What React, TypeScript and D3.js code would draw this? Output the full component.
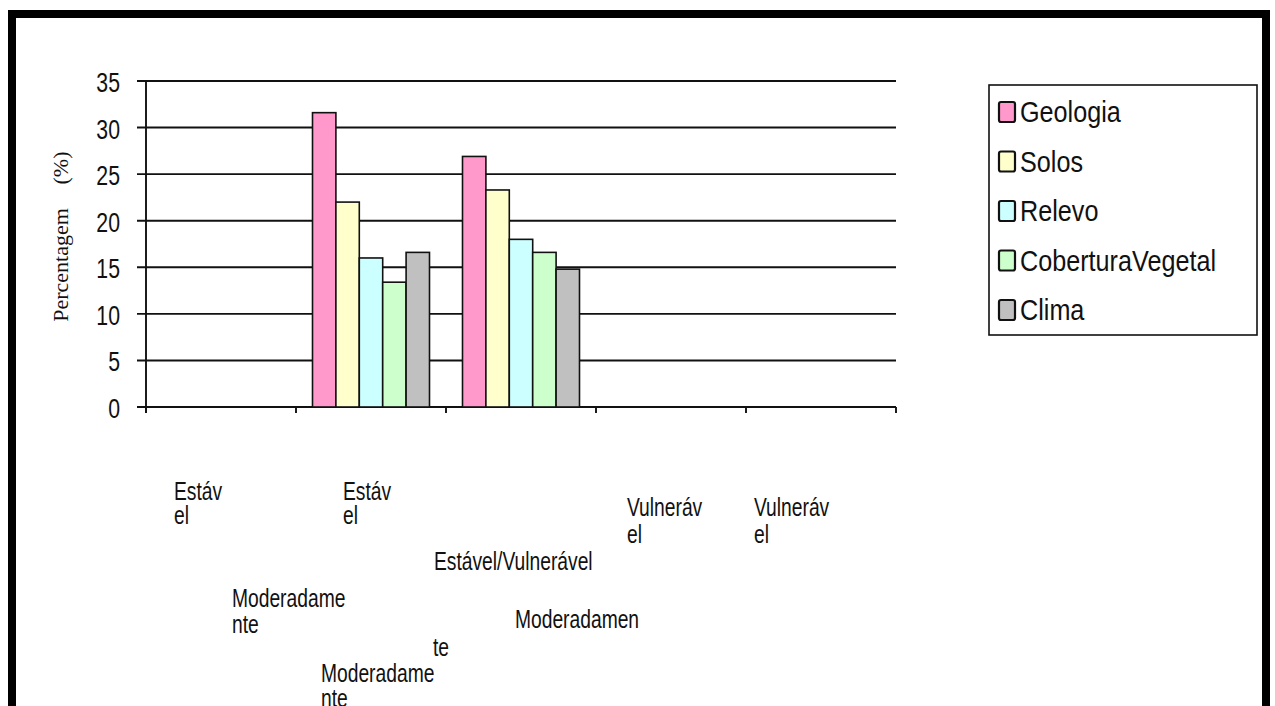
import React from "react";
import * as d3 from "d3";

const categories = [
  "Estável",
  "Moderadamente Estável",
  "Medianamente Estável/Vulnerável",
  "Moderadamente Vulnerável",
  "Vulnerável",
];
const seriesNames = ["Geologia", "Solos", "Relevo", "CoberturaVegetal", "Clima"];
const geologia = [0, 31.6, 26.9, 0, 0];
const solos = [0, 22.0, 23.3, 0, 0];
const relevo = [0, 16.0, 18.0, 0, 0];
const coberturaVegetal = [0, 13.4, 16.6, 0, 0];
const clima = [0, 16.6, 14.8, 0, 0];
const yTicks = [0, 5, 10, 15, 20, 25, 30, 35];
const colors = ["#FF99CC", "#FFFFCC", "#CCFFFF", "#CCFFCC", "#C0C0C0"];

// Fragments of the wrapped category labels as they appear in the picture
const labelFragments = [
  { t: "Estáv", x: 174, y: 500 },
  { t: "el", x: 174, y: 524 },
  { t: "Estáv", x: 343, y: 500 },
  { t: "el", x: 343, y: 524 },
  { t: "Vulneráv", x: 627, y: 516 },
  { t: "el", x: 627, y: 543 },
  { t: "Vulneráv", x: 754, y: 516 },
  { t: "el", x: 754, y: 543 },
  { t: "Estável/Vulnerável", x: 434, y: 570 },
  { t: "Moderadame", x: 232, y: 607 },
  { t: "nte", x: 232, y: 633 },
  { t: "Moderadamen", x: 515, y: 628 },
  { t: "te", x: 433, y: 656 },
  { t: "Moderadame", x: 321, y: 682 },
  { t: "nte", x: 321, y: 707 },
];

const series = [geologia, solos, relevo, coberturaVegetal, clima];

export default function App() {
  const x0 = 146, x1 = 896, yTop = 81, yBase = 407;
  const xBand = d3.scaleBand<string>().domain(categories).range([x0, x1]).padding(0);
  const cw = xBand.bandwidth();
  const xSub = d3
    .scaleBand<string>()
    .domain(seriesNames)
    .range([cw * 0.11, cw * 0.89])
    .padding(0);
  const y = d3.scaleLinear().domain([0, 35]).range([yBase, yTop]);
  const sans = "'Liberation Sans', Arial, sans-serif";

  const boundaries = categories.map((c) => xBand(c)!).concat([x1]);

  return (
    <svg
      width={1275}
      height={706}
      style={{ position: "absolute", left: 0, top: 0, background: "#fff" }}
    >
      {/* outer frame */}
      <rect x={12} y={14} width={1254} height={720} fill="none" stroke="#000" strokeWidth={8} />

      {/* gridlines */}
      {yTicks.filter((t) => t > 0).map((t) => (
        <line key={t} x1={137} x2={x1} y1={y(t)} y2={y(t)} stroke="#111" strokeWidth={1.9} />
      ))}
      {/* axes */}
      <line x1={x0} x2={x0} y1={yTop} y2={413} stroke="#111" strokeWidth={1.9} />
      <line x1={137} x2={x1} y1={yBase} y2={yBase} stroke="#111" strokeWidth={1.9} />
      {boundaries.map((b, i) => (
        <line key={i} x1={b} x2={b} y1={yBase} y2={413} stroke="#111" strokeWidth={1.9} />
      ))}

      {/* bars */}
      {series.map((vals, si) =>
        vals.map((v, ci) =>
          v > 0 ? (
            <rect
              key={`${si}-${ci}`}
              x={xBand(categories[ci])! + xSub(seriesNames[si])!}
              y={y(v)}
              width={xSub.bandwidth()}
              height={yBase - y(v)}
              fill={colors[si]}
              stroke="#111"
              strokeWidth={1.6}
            />
          ) : null
        )
      )}

      {/* y tick labels */}
      {yTicks.map((t) => (
        <text
          key={t}
          transform={`translate(120,${y(t) + 11}) scale(0.76,1)`}
          textAnchor="end"
          fontFamily={sans}
          fontSize={28}
          fill="#111"
        >
          {t}
        </text>
      ))}

      {/* y axis title */}
      <text
        transform="translate(68,265) rotate(-90)"
        textAnchor="middle"
        fontFamily="'Liberation Serif', 'Times New Roman', serif"
        fontSize={22}
        fill="#111"
      >
        Percentagem
      </text>
      <text
        transform="translate(68,168) rotate(-90)"
        textAnchor="middle"
        fontFamily="'Liberation Serif', 'Times New Roman', serif"
        fontSize={22}
        fill="#111"
      >
        (%)
      </text>

      {/* category label fragments */}
      {labelFragments.map((f, i) => (
        <text
          key={i}
          transform={`translate(${f.x},${f.y}) scale(0.77,1)`}
          fontFamily={sans}
          fontSize={25}
          fill="#111"
        >
          {f.t}
        </text>
      ))}

      {/* legend */}
      <rect x={989} y={85} width={268} height={250} fill="#fff" stroke="#111" strokeWidth={1.6} />
      {seriesNames.map((s, i) => {
        const cy = 112 + i * 49.5;
        return (
          <g key={s}>
            <rect
              x={999}
              y={cy - 10}
              width={16}
              height={20}
              rx={2}
              fill={colors[i]}
              stroke="#111"
              strokeWidth={2.2}
            />
            <text
              transform={`translate(1020,${cy + 10}) scale(0.84,1)`}
              fontFamily={sans}
              fontSize={30}
              fill="#111"
            >
              {s}
            </text>
          </g>
        );
      })}
    </svg>
  );
}
